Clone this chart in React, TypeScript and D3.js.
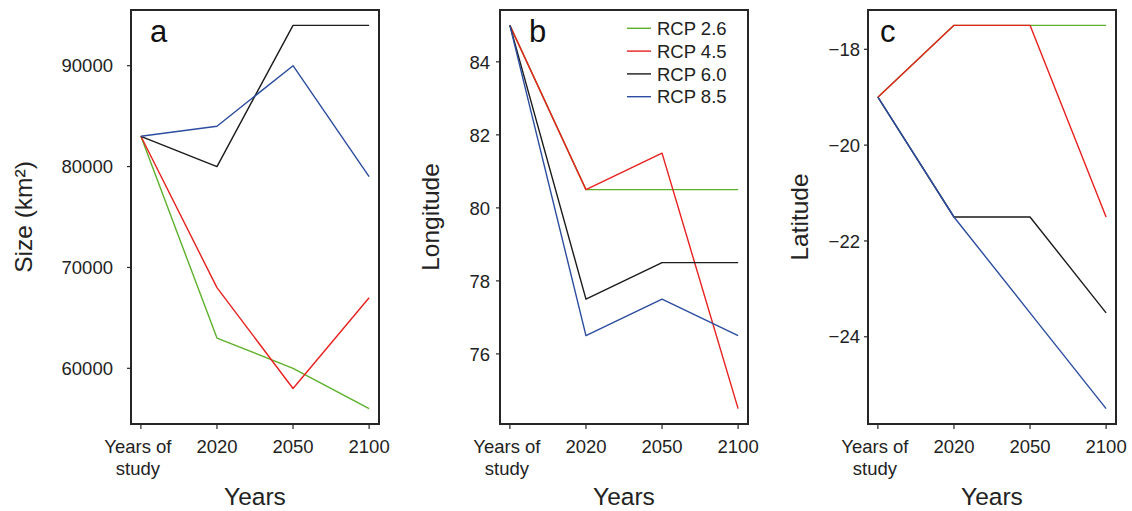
import React, { useEffect, useRef } from 'react';
import * as d3 from 'd3';

const categories = ['Years of study', '2020', '2050', '2100'];
const seriesNames = ['RCP 2.6', 'RCP 4.5', 'RCP 6.0', 'RCP 8.5'];
const seriesColors = ['#5db02a', '#e8201f', '#1a1a1a', '#2b4c9f'];

const sizeRcp26 = [83000, 63000, 60000, 56000];
const sizeRcp45 = [83000, 68000, 58000, 67000];
const sizeRcp60 = [83000, 80000, 94000, 94000];
const sizeRcp85 = [83000, 84000, 90000, 79000];
const sizeTicks = [60000, 70000, 80000, 90000];

const lonRcp26 = [85, 80.5, 80.5, 80.5];
const lonRcp45 = [85, 80.5, 81.5, 74.5];
const lonRcp60 = [85, 77.5, 78.5, 78.5];
const lonRcp85 = [85, 76.5, 77.5, 76.5];
const lonTicks = [76, 78, 80, 82, 84];

const latRcp26 = [-19, -17.5, -17.5, -17.5];
const latRcp45 = [-19, -17.5, -17.5, -21.5];
const latRcp60 = [-19, -21.5, -21.5, -23.5];
const latRcp85 = [-19, -21.5, -23.5, -25.5];
const latTicks = [-24, -22, -20, -18];

const panels = [
  { letter: 'a', title: 'Size (km²)', series: [sizeRcp26, sizeRcp45, sizeRcp60, sizeRcp85], ticks: sizeTicks, left: 131, labelGap: 18, titleX: 32, legend: false },
  { letter: 'b', title: 'Longitude', series: [lonRcp26, lonRcp45, lonRcp60, lonRcp85], ticks: lonTicks, left: 500, labelGap: 10, titleX: 439, legend: true },
  { letter: 'c', title: 'Latitude', series: [latRcp26, latRcp45, latRcp60, latRcp85], ticks: latTicks, left: 868, labelGap: 8, titleX: 808, legend: false },
];

const W = 1132;
const H = 511;
const FONT = '"Liberation Sans", Arial, Helvetica, sans-serif';
const TEXT = '#222';

function App() {
  const svgRef = useRef(null);

  useEffect(() => {
    const svg = d3.select(svgRef.current);
    svg.selectAll('*').remove();

    const top = 10;
    const bottom = 424;
    const pw = 248;

    panels.forEach(p => {
      const g = svg.append('g');
      const x = d3.scalePoint().domain(categories).range([p.left, p.left + pw]).padding(0.13);
      const all = p.series.flat();
      const [lo, hi] = d3.extent(all);
      const pad = (hi - lo) * 0.04;
      const y = d3.scaleLinear().domain([lo - pad, hi + pad]).range([bottom, top]);

      const line = d3.line().x((_, i) => x(categories[i])).y(d => y(d));

      p.series.forEach((vals, i) => {
        g.append('path')
          .datum(vals)
          .attr('fill', 'none')
          .attr('stroke', seriesColors[i])
          .attr('stroke-width', 1.4)
          .attr('stroke-linejoin', 'round')
          .attr('d', line);
      });

      // frame
      g.append('rect')
        .attr('x', p.left)
        .attr('y', top)
        .attr('width', pw)
        .attr('height', bottom - top)
        .attr('fill', 'none')
        .attr('stroke', '#262626')
        .attr('stroke-width', 2);

      // y ticks
      p.ticks.forEach(t => {
        g.append('line')
          .attr('x1', p.left - 4).attr('x2', p.left)
          .attr('y1', y(t)).attr('y2', y(t))
          .attr('stroke', '#262626').attr('stroke-width', 1.2);
        g.append('text')
          .attr('x', p.left - p.labelGap)
          .attr('y', y(t))
          .attr('dy', '0.36em')
          .attr('text-anchor', 'end')
          .style('font-family', FONT)
          .style('font-size', '18.5px')
          .style('fill', TEXT)
          .text(String(t).replace('-', '\u2212'));
      });

      // x ticks
      categories.forEach((c, i) => {
        const cx = x(c);
        g.append('line')
          .attr('x1', cx).attr('x2', cx)
          .attr('y1', bottom).attr('y2', bottom + 5)
          .attr('stroke', '#262626').attr('stroke-width', 1.2);
        const words = i === 0 ? ['Years of', 'study'] : [c];
        words.forEach((w, k) => {
          g.append('text')
            .attr('x', i === 0 ? cx - 3 : cx)
            .attr('y', 453 + k * 22)
            .attr('text-anchor', 'middle')
            .style('font-family', FONT)
            .style('font-size', '18.5px')
            .style('fill', TEXT)
            .text(w);
        });
      });

      // axis titles
      g.append('text')
        .attr('x', p.left + pw / 2)
        .attr('y', 505)
        .attr('text-anchor', 'middle')
        .style('font-family', FONT)
        .style('font-size', '24.5px')
        .style('fill', TEXT)
        .text('Years');

      g.append('text')
        .attr('transform', `translate(${p.titleX},${(top + bottom) / 2}) rotate(-90)`)
        .attr('text-anchor', 'middle')
        .style('font-family', FONT)
        .style('font-size', '24.5px')
        .style('fill', TEXT)
        .text(p.title);

      // panel letter
      g.append('text')
        .attr('x', p.left + (p.letter === 'a' ? 19 : p.letter === 'b' ? 29 : 12))
        .attr('y', 42)
        .style('font-family', FONT)
        .style('font-size', '31px')
        .style('fill', '#111')
        .text(p.letter);

      if (p.legend) {
        seriesNames.forEach((name, i) => {
          const ly = 28.3 + i * 22.8;
          g.append('line')
            .attr('x1', 627).attr('x2', 651)
            .attr('y1', ly).attr('y2', ly)
            .attr('stroke', seriesColors[i]).attr('stroke-width', 1.4);
          g.append('text')
            .attr('x', 657)
            .attr('y', ly)
            .attr('dy', '0.36em')
            .style('font-family', FONT)
            .style('font-size', '18.5px')
            .style('fill', TEXT)
            .text(name);
        });
      }
    });
  }, []);

  return (
    <svg ref={svgRef} width={W} height={H} style={{ position: 'absolute', left: 0, top: 0, background: '#fff' }}></svg>
  );
}

export default App;
